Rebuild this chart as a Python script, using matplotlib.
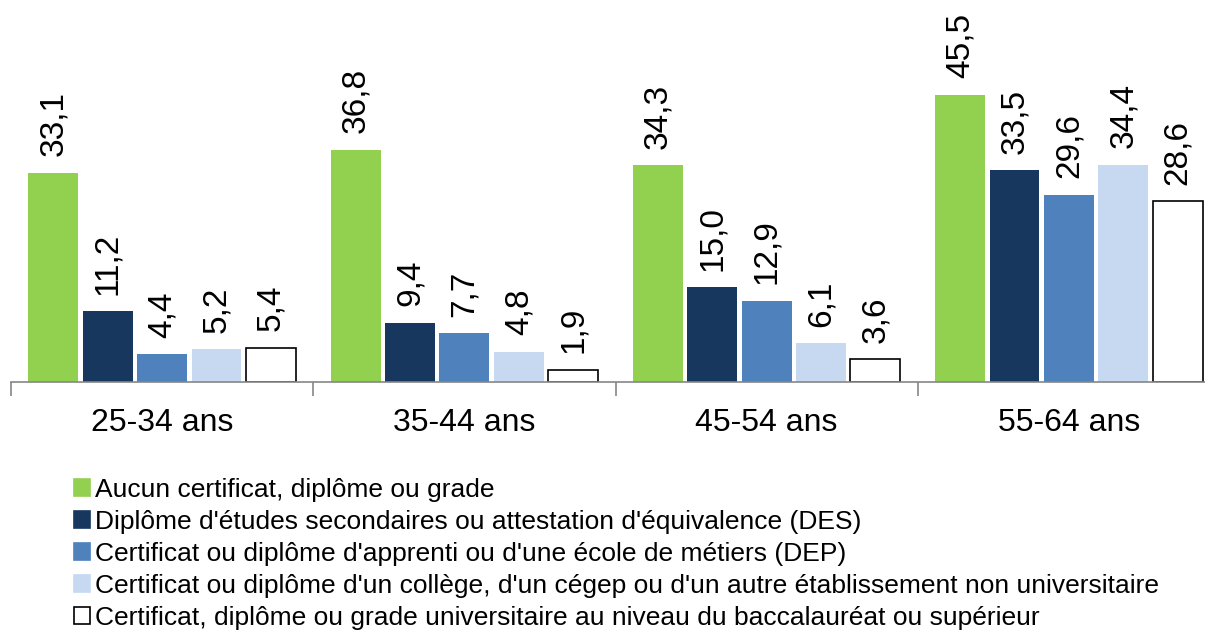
import numpy as np
import matplotlib
matplotlib.use("Agg")
import matplotlib.pyplot as plt
from matplotlib.patches import Patch

plt.rcParams['font.family'] = ['Liberation Sans', 'DejaVu Sans']

# data
groups = ["25-34 ans", "35-44 ans", "45-54 ans", "55-64 ans"]
series = [
    "Aucun certificat, diplôme ou grade",
    "Diplôme d'études secondaires ou attestation d'équivalence (DES)",
    "Certificat ou diplôme d'apprenti ou d'une école de métiers (DEP)",
    "Certificat ou diplôme d'un collège, d'un cégep ou d'un autre établissement non universitaire",
    "Certificat, diplôme ou grade universitaire au niveau du baccalauréat ou supérieur",
]
aucun = [33.1, 36.8, 34.3, 45.5]
des = [11.2, 9.4, 15.0, 33.5]
dep = [4.4, 7.7, 12.9, 29.6]
college = [5.2, 4.8, 6.1, 34.4]
univ = [5.4, 1.9, 3.6, 28.6]
values = [aucun, des, dep, college, univ]

colors = ["#92D050", "#17375E", "#4F81BD", "#C6D9F1", "white"]
edges = ["none", "none", "none", "none", "black"]

fig = plt.figure(figsize=(12.05, 6.34), dpi=100)
ax = fig.add_axes((11 / 1205, 252 / 634, 1209 / 1205, 382 / 634))

x = np.arange(len(groups))
step = 0.18
width = 0.165
handles = []
for i, (vals, c, ec) in enumerate(zip(values, colors, edges)):
    pos = x + (i - 2) * step
    bars = ax.bar(pos, vals, width=width, color=c, edgecolor=ec, linewidth=1.2)
    ax.bar_label(bars, labels=[f"{v:.1f}".replace(".", ",") for v in vals],
                 rotation=90, padding=12, fontsize=24)
    handles.append(Patch(facecolor=c, edgecolor=("black" if ec != "none" else c),
                         linewidth=1.2, label=series[i]))

ax.set_xlim(-0.5, 3.5)
ax.set_ylim(0, 60.5)
ax.set_yticks([])
for s in ["top", "right", "left"]:
    ax.spines[s].set_visible(False)
ax.spines["bottom"].set_color("#868686")
ax.spines["bottom"].set_linewidth(1.2)

ax.set_xticks([-0.5, 0.5, 1.5, 2.5, 3.5])
ax.set_xticklabels([])
ax.tick_params(axis="x", which="major", length=10, width=1.2, color="#868686")
ax.set_xticks(x, minor=True)
ax.set_xticklabels(groups, minor=True, fontsize=23)
ax.tick_params(axis="x", which="minor", length=0, pad=19)

fig.legend(handles=handles, loc="upper left", bbox_to_anchor=(74 / 1205, 1 - 478 / 634),
           frameon=False, fontsize=19, handlelength=0.6, handleheight=0.6,
           handletextpad=0.2, labelspacing=0.3, borderaxespad=0, borderpad=0)

fig.savefig("out.png", dpi=100)
